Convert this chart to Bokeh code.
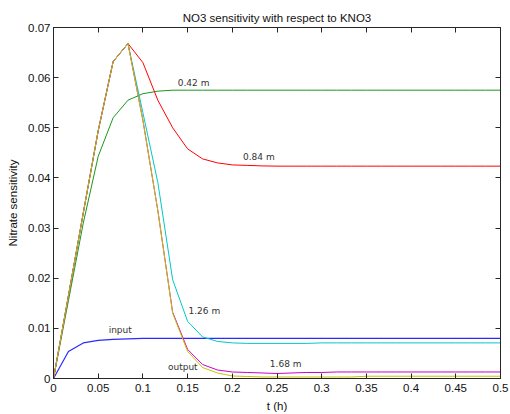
from bokeh.plotting import figure
from bokeh.models import LinearAxis, Range1d, FixedTicker, ColumnDataSource
from bokeh.embed import file_html
from bokeh.resources import INLINE
from bokeh.core.properties import value

# time grid (h)
t = [0, 0.0167, 0.0333, 0.05, 0.0667, 0.0833, 0.1, 0.1167, 0.1333, 0.15,
     0.1667, 0.1833, 0.2, 0.2167, 0.2333, 0.25, 0.2667, 0.2833, 0.3, 0.3167,
     0.3333, 0.35, 0.3667, 0.3833, 0.4, 0.4167, 0.4333, 0.45, 0.4667, 0.4833, 0.5]

input_s = [0, 0.0054, 0.0071, 0.0076, 0.0078, 0.0079, 0.0080, 0.0080, 0.0080, 0.0080,
           0.0080, 0.0080, 0.0080, 0.0080, 0.0080, 0.0080, 0.0080, 0.0080, 0.0080, 0.0080,
           0.0080, 0.0080, 0.0080, 0.0080, 0.0080, 0.0080, 0.0080, 0.0080, 0.0080, 0.0080, 0.0080]

m042 = [0, 0.0155, 0.031, 0.0443, 0.0520, 0.0555, 0.0568, 0.0573, 0.0575, 0.0575,
        0.0575, 0.0575, 0.0575, 0.0575, 0.0575, 0.0575, 0.0575, 0.0575, 0.0575, 0.0575,
        0.0575, 0.0575, 0.0575, 0.0575, 0.0575, 0.0575, 0.0575, 0.0575, 0.0575, 0.0575, 0.0575]

m084 = [0, 0.0165, 0.033, 0.0494, 0.0632, 0.0668, 0.0630, 0.0555, 0.0500, 0.0458,
        0.0438, 0.0430, 0.0426, 0.0425, 0.0424, 0.04235, 0.04235, 0.04235, 0.04235, 0.04235,
        0.04235, 0.04235, 0.04235, 0.04235, 0.04235, 0.04235, 0.04235, 0.04235, 0.04235, 0.04235, 0.04235]

m126 = [0, 0.0165, 0.033, 0.0494, 0.0632, 0.0668, 0.0530, 0.0391, 0.0197, 0.0114,
        0.0083, 0.0074, 0.0071, 0.0070, 0.0070, 0.0070, 0.0070, 0.0070, 0.0071, 0.0071,
        0.0071, 0.0071, 0.0071, 0.0071, 0.0071, 0.0071, 0.0071, 0.0071, 0.0071, 0.0071, 0.0071]

m168 = [0, 0.0165, 0.033, 0.0494, 0.0632, 0.0668, 0.0515, 0.0335, 0.0132, 0.0058,
        0.0028, 0.0017, 0.0013, 0.0012, 0.0011, 0.0010, 0.0011, 0.0012, 0.0012, 0.0013,
        0.0013, 0.0013, 0.0013, 0.0013, 0.0013, 0.0013, 0.0013, 0.0013, 0.0013, 0.0013, 0.0013]

output_s = [0, 0.0165, 0.033, 0.0494, 0.0632, 0.0668, 0.0515, 0.0335, 0.0130, 0.0054,
            0.0022, 0.0011, 0.0005, 0.0004, 0.0003, 0.0003, 0.0003, 0.0003, 0.0003, 0.0003,
            0.0003, 0.00045, 0.00045, 0.00045, 0.00045, 0.00045, 0.00045, 0.00045, 0.00045, 0.00045, 0.00045]

xticks = [0, 0.05, 0.1, 0.15, 0.2, 0.25, 0.3, 0.35, 0.4, 0.45, 0.5]
xtick_labels = ["0", "0.05", "0.1", "0.15", "0.2", "0.25", "0.3", "0.35", "0.4", "0.45", "0.5"]
yticks = [0, 0.01, 0.02, 0.03, 0.04, 0.05, 0.06, 0.07]
ytick_labels = ["0", "0.01", "0.02", "0.03", "0.04", "0.05", "0.06", "0.07"]

label_text = ["0.42 m", "0.84 m", "1.26 m", "input", "output", "1.68 m"]
label_x = [0.139, 0.212, 0.151, 0.0617, 0.128, 0.242]
label_y = [0.059, 0.0441, 0.0134, 0.0097, 0.0023, 0.0029]

FONT = "Liberation Sans"
AX = "#262626"

p = figure(width=510, height=414, output_backend="svg", toolbar_location=None,
           x_range=Range1d(0, 0.5), y_range=Range1d(0, 0.07),
           min_border_left=53, min_border_right=10, min_border_top=27, min_border_bottom=35,
           title="NO3 sensitivity with respect to KNO3")
p.title.text_font = FONT
p.title.text_font_size = "11.5px"
p.title.text_font_style = "normal"
p.title.align = "center"
p.title.text_color = "#111"
p.title.standoff = 7
p.xgrid.visible = False
p.ygrid.visible = False
p.outline_line_color = AX
p.background_fill_color = "white"
p.border_fill_color = "white"

def style_axis(ax, ticks, labels, show_labels=True):
    ax.ticker = FixedTicker(ticks=ticks)
    ax.major_label_overrides = {tk: lb for tk, lb in zip(ticks, labels)}
    ax.major_tick_in = 5
    ax.major_tick_out = 0
    ax.minor_tick_line_color = None
    ax.axis_line_color = AX
    ax.major_tick_line_color = AX
    ax.major_label_text_font = FONT
    ax.major_label_text_color = "#111"
    if show_labels:
        ax.major_label_text_font_size = "11.5px"
    else:
        ax.major_label_text_font_size = "0px"
        ax.major_label_standoff = 0

style_axis(p.xaxis[0], xticks, xtick_labels)
style_axis(p.yaxis[0], yticks, ytick_labels)
p.xaxis[0].axis_label = "t (h)"
p.yaxis[0].axis_label = "Nitrate sensitivity"
for ax in (p.xaxis[0], p.yaxis[0]):
    ax.axis_label_text_font = FONT
    ax.axis_label_text_font_size = "11.5px"
    ax.axis_label_text_font_style = "normal"
    ax.axis_label_text_color = "#111"
p.xaxis[0].major_label_standoff = 5
p.xaxis[0].axis_label_standoff = 5
p.yaxis[0].major_label_standoff = 3
p.yaxis[0].axis_label_standoff = 6

top = LinearAxis()
right = LinearAxis()
style_axis(top, xticks, [""] * len(xticks), show_labels=False)
style_axis(right, yticks, [""] * len(yticks), show_labels=False)
p.add_layout(top, "above")
p.add_layout(right, "right")

src = ColumnDataSource(dict(t=t, inp=input_s, m042=m042, m084=m084,
                            m126=m126, m168=m168, out=output_s))
p.line("t", "inp", source=src, line_color="#2a2aff", line_width=1.2)
p.line("t", "m042", source=src, line_color="#1c961c", line_width=1)
p.line("t", "m084", source=src, line_color="#ff0000", line_width=1)
p.line("t", "m126", source=src, line_color="#00c8c8", line_width=1)
p.line("t", "m168", source=src, line_color="#c800c8", line_width=1)
p.line("t", "out", source=src, line_color="#c4c400", line_width=1)

lsrc = ColumnDataSource(dict(x=label_x, y=label_y, text=label_text))
p.text("x", "y", text="text", source=lsrc, text_font=value("DejaVu Sans"),
       text_font_size="9px", text_baseline="middle", text_align="left", text_color="#333")

open("out.html", "w").write(file_html(p, INLINE))
